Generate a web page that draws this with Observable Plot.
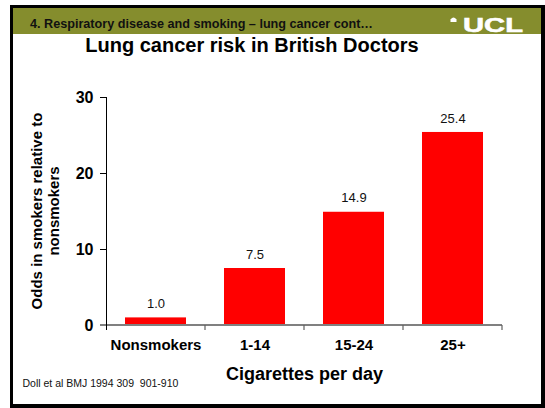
<!DOCTYPE html>
<html>
<head>
<meta charset="utf-8">
<script src="https://cdn.jsdelivr.net/npm/d3@7"></script>
<script src="https://cdn.jsdelivr.net/npm/@observablehq/plot@0.6"></script>
<style>
  html, body { margin: 0; padding: 0; background: #fff; }
  #page { position: relative; width: 545px; height: 408px; overflow: hidden;
          font-family: "Liberation Sans", Arial, Helvetica, sans-serif; background: #fff; }
  #frame { position: absolute; left: 10px; top: 5px; width: 535px; height: 403px;
           box-sizing: border-box; border-style: solid; border-color: #000;
           border-width: 3px 4px 4px 3px; background: #fff; }
  #header { position: absolute; left: 13px; top: 8px; width: 528px; height: 26px; background: #858d2d; }
  #chart { position: absolute; left: 0; top: 0; }
  #overlay { position: absolute; left: 0; top: 0; pointer-events: none; }
  #chart svg [aria-label="y-axis tick label"] text,
  #chart svg [aria-label="x-axis tick label"] text { font-weight: bold; }
</style>
</head>
<body>
<div id="page">
  <div id="frame"></div>
  <div id="header"></div>
  <div id="chart"></div>
  <svg id="overlay" width="545" height="408" font-family="'Liberation Sans', Arial, sans-serif">
    <text x="30" y="27.5" font-size="12" font-weight="bold" fill="#111" textLength="343" lengthAdjust="spacingAndGlyphs">4. Respiratory disease and smoking – lung cancer cont…</text>
    <path d="M450.5,22 L450.5,19.5 Q453.5,15.5 456.5,19.5 L456.5,22 Z" fill="#fff"/>
    <text x="463" y="32" font-size="21" font-weight="bold" fill="#fff" stroke="#fff" stroke-width="0.6" textLength="60" lengthAdjust="spacingAndGlyphs">UCL</text>
    <text x="252" y="51.5" font-size="20" font-weight="bold" text-anchor="middle" fill="#000">Lung cancer risk in British Doctors</text>
    <text transform="translate(41.5,211) rotate(-90)" font-size="15" font-weight="bold" text-anchor="middle" fill="#000">Odds in smokers relative to</text>
    <text transform="translate(59,211) rotate(-90)" font-size="15" font-weight="bold" text-anchor="middle" fill="#000">nonsmokers</text>
    <text x="304.5" y="380" font-size="18" font-weight="bold" text-anchor="middle" fill="#000">Cigarettes per day</text>
    <text x="22.5" y="387" font-size="10.5" fill="#111" xml:space="preserve">Doll et al BMJ 1994 309  901-910</text>
  </svg>
</div>
<script>
// ---- data ----
const categories = ["Nonsmokers", "1-14", "15-24", "25+"];
const odds = [1.0, 7.5, 14.9, 25.4];
const yTicks = [0, 10, 20, 30];

const data = categories.map((c, i) => ({ category: c, odds: odds[i] }));

// axis lines: y-axis (black) and x-axis (grey) with category boundary ticks
function axisLines(index, scales, values, dimensions) {
  const x = scales.x, y = scales.y;
  const bw = x.bandwidth ? x.bandwidth() : 0;
  const centers = categories.map(c => x(c) + bw / 2);
  const step = centers.length > 1 ? centers[1] - centers[0] : bw;
  const bounds = [centers[0] - step / 2, ...centers.map(c => c + step / 2)];
  const y0 = y(0), yTop = y(yTicks[yTicks.length - 1]);
  const g = d3.create("svg:g");
  g.append("line")
    .attr("x1", bounds[0] - 6).attr("x2", bounds[bounds.length - 1])
    .attr("y1", y0).attr("y2", y0)
    .attr("stroke", "#808080").attr("stroke-width", 2);
  bounds.slice(1).forEach(b => {
    g.append("line")
      .attr("x1", b).attr("x2", b).attr("y1", y0).attr("y2", y0 + 5)
      .attr("stroke", "#606060").attr("stroke-width", 1.2);
  });
  g.append("line")
    .attr("x1", bounds[0] + 0.5).attr("x2", bounds[0] + 0.5)
    .attr("y1", yTop).attr("y2", y0 + 5)
    .attr("stroke", "#000").attr("stroke-width", 1);
  return g.node();
}

const chart = Plot.plot({
  width: 545,
  height: 408,
  marginLeft: 106,
  marginRight: 42,
  marginTop: 97,
  marginBottom: 83,
  style: { background: "transparent", fontFamily: "'Liberation Sans', Arial, sans-serif", color: "#000", overflow: "visible" },
  x: { domain: categories, paddingInner: 0.38, paddingOuter: 0.19, label: null },
  y: { domain: [0, 30], label: null },
  marks: [
    Plot.barY(data, { x: "category", y: "odds", fill: "#ff0000" }),
    Plot.axisY({ ticks: yTicks, tickSize: 6, tickPadding: 7, fontSize: 16, fontWeight: "bold", stroke: "#000", fill: "#000", label: null }),
    Plot.axisX({ tickSize: 0, tickPadding: 14, fontSize: 15, fontWeight: "bold", fill: "#000", label: null }),
    axisLines,
    Plot.text(data, { x: "category", y: "odds", text: d => d.odds.toFixed(1), dy: -14, fontSize: 13, fill: "#111" })
  ]
});
document.getElementById("chart").appendChild(chart);
</script>
</body>
</html>
